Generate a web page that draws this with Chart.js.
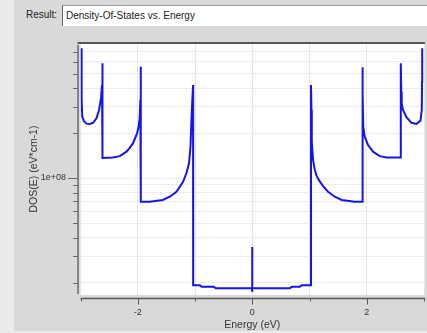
<!DOCTYPE html>
<html><head><meta charset="utf-8">
<script src="https://cdn.jsdelivr.net/npm/chart.js@4/dist/chart.umd.min.js"></script>
<style>
html,body{margin:0;padding:0;}
body{width:427px;height:333px;background:#ebebeb;position:relative;overflow:hidden;font-family:"Liberation Sans",Arial,sans-serif;}
#panel{position:absolute;left:14px;top:0;width:413px;height:331px;background:#d9d9d9;}
#lbl{position:absolute;left:26px;top:9px;font-size:10px;color:#222;}
#box{position:absolute;left:62px;top:5px;width:365px;height:21px;background:#fff;border-left:1px solid #666;border-top:1px solid #999;box-sizing:border-box;font-size:10px;color:#222;line-height:19px;padding-left:3px;white-space:nowrap;}
#wrap{position:absolute;left:0;top:0;width:427px;height:333px;}
</style></head>
<body>
<div id="panel"></div>
<div id="lbl">Result:</div>
<div id="box">Density-Of-States vs. Energy</div>
<div id="wrap"><canvas id="c"></canvas></div>
<script>
// Energy (eV) and DOS values
const energy = [
 -2.983,-2.983,-2.978,-2.969,-2.939,-2.896,-2.838,-2.781,-2.721,-2.676,-2.641,-2.624,-2.617,-2.615,
 -2.437,-2.314,-2.197,-2.140,-2.082,-2.012,-1.983,-1.965,-1.955,-1.948,-1.946,
 -1.790,-1.563,-1.441,-1.324,-1.209,-1.149,-1.104,-1.079,-1.057,-1.034,-1.032,
 -0.917,-0.882,-0.672,-0.638,-0.004,-0.002,0.000,0.002,0.655,0.690,0.830,0.865,1.025,
 1.026,1.034,1.040,1.062,1.090,1.121,1.170,1.240,1.324,1.441,1.563,1.790,1.924,
 1.925,1.930,1.939,1.965,2.023,2.110,2.227,2.344,2.576,2.594,
 2.595,2.603,2.611,2.634,2.693,2.781,2.868,2.938,2.961,2.966,2.969
];
const dos = [
 7.38e8,4.38e8,3.33e8,2.57e8,2.40e8,2.31e8,2.30e8,2.34e8,2.51e8,2.85e8,3.43e8,4.19e8,5.85e8,1.36e8,
 1.37e8,1.40e8,1.50e8,1.59e8,1.71e8,1.99e8,2.23e8,2.52e8,3.33e8,5.55e8,6.93e7,
 6.93e7,7.13e7,7.50e7,8.10e7,9.44e7,1.08e8,1.26e8,1.62e8,2.72e8,4.19e8,1.92e7,
 1.92e7,1.87e7,1.87e7,1.83e7,1.83e7,3.45e7,1.73e7,1.83e7,1.83e7,1.87e7,1.87e7,1.92e7,1.92e7,
 4.19e8,2.85e8,1.75e8,1.32e8,1.15e8,1.04e8,9.6e7,8.8e7,8.10e7,7.50e7,7.13e7,6.93e7,6.93e7,
 5.50e8,3.59e8,2.19e8,1.89e8,1.66e8,1.50e8,1.40e8,1.37e8,1.37e8,1.37e8,
 5.85e8,3.76e8,3.13e8,2.85e8,2.55e8,2.34e8,2.30e8,2.42e8,2.85e8,4.38e8,7.38e8
];
const xTicks = [-3,-2,-1,0,1,2,3];
const xTickLabels = ['','-2','','0','','2',''];
const yTicks = [2e7,3e7,4e7,5e7,6e7,7e7,8e7,9e7,1e8,2e8,3e8,4e8,5e8,6e8,7e8];
const yTickLabels = ['','','','','','','','','1e+08','','','','','',''];

const FAM = '"Liberation Sans", Arial, sans-serif';

const framePlugin = {
  id: 'frame',
  beforeDraw(chart) {
    const {ctx, chartArea: a} = chart;
    ctx.save();
    ctx.fillStyle = '#ffffff';
    ctx.fillRect(a.left, a.top, a.right - a.left, a.bottom - a.top);
    ctx.restore();
  },
  afterDraw(chart) {
    const {ctx, chartArea: a, scales: {x, y}} = chart;
    ctx.save();
    ctx.strokeStyle = '#585858';
    ctx.lineWidth = 2;
    ctx.beginPath(); ctx.moveTo(a.left - 3, a.top); ctx.lineTo(a.right + 1, a.top); ctx.stroke();
    const ax = a.left - 2.5;
    ctx.strokeStyle = '#6a6a6a';
    ctx.lineWidth = 1.5;
    ctx.beginPath(); ctx.moveTo(ax, a.top + 2); ctx.lineTo(ax, a.bottom - 1); ctx.stroke();
    ctx.lineWidth = 1;
    yTicks.forEach((v, i) => {
      const py = Math.round(y.getPixelForValue(v)) + 0.5;
      const len = yTickLabels[i] ? 10 : 5;
      ctx.beginPath(); ctx.moveTo(ax - len, py); ctx.lineTo(ax, py); ctx.stroke();
    });
    const by = a.bottom + 3.5;
    ctx.strokeStyle = '#585858';
    ctx.lineWidth = 1.5;
    ctx.beginPath(); ctx.moveTo(a.left, by); ctx.lineTo(a.right + 1, by); ctx.stroke();
    ctx.lineWidth = 1;
    xTicks.forEach((v, i) => {
      const px = Math.round(x.getPixelForValue(v)) + 0.5;
      const len = xTickLabels[i] ? 6 : 3;
      ctx.beginPath(); ctx.moveTo(px, by); ctx.lineTo(px, by + len); ctx.stroke();
    });
    ctx.restore();
  }
};

new Chart(document.getElementById('c'), {
  type: 'line',
  data: {
    datasets: [{
      data: energy.map((e, i) => ({x: e, y: dos[i]})),
      borderColor: '#1414ec',
      borderWidth: 2,
      pointRadius: 0,
      tension: 0,
      fill: false
    }]
  },
  options: {
    responsive: true,
    maintainAspectRatio: false,
    animation: false,
    layout: {padding: {left: 0, top: 43, right: 3, bottom: 0}},
    plugins: {legend: {display: false}, tooltip: {enabled: false}},
    scales: {
      x: {
        type: 'linear', min: -3, max: 3,
        afterBuildTicks: s => { s.ticks = xTicks.map(v => ({value: v})); },
        afterFit: s => { s.height = 38; s.paddingLeft = 0; s.paddingRight = 0; },
        grid: {color: '#e6e6e6', drawTicks: false, lineWidth: 1},
        border: {display: false},
        ticks: {
          callback: (v, i) => xTickLabels[i],
          font: {size: 9, family: FAM}, color: '#333', padding: 12,
          maxRotation: 0, autoSkip: false
        },
        title: {display: true, text: 'Energy (eV)', font: {size: 10.5, family: FAM}, color: '#333', padding: {top: 0, bottom: 2}}
      },
      y: {
        type: 'logarithmic', min: 1.65e7, max: 8.0e8,
        afterBuildTicks: s => { s.ticks = yTicks.map(v => ({value: v})); },
        afterFit: s => { s.width = 80.5; s.paddingTop = 0; s.paddingBottom = 0; },
        grid: {color: '#ececec', drawTicks: false, lineWidth: 1},
        border: {display: false},
        ticks: {
          callback: (v, i) => yTickLabels[i],
          font: {size: 9, family: FAM}, color: '#333', padding: 14.5, autoSkip: false
        },
        title: {display: true, text: 'DOS(E) (eV*cm-1)', font: {size: 10.5, family: FAM}, color: '#333', padding: {top: 28, bottom: 0}}
      }
    }
  },
  plugins: [framePlugin]
});
</script>
</body></html>
